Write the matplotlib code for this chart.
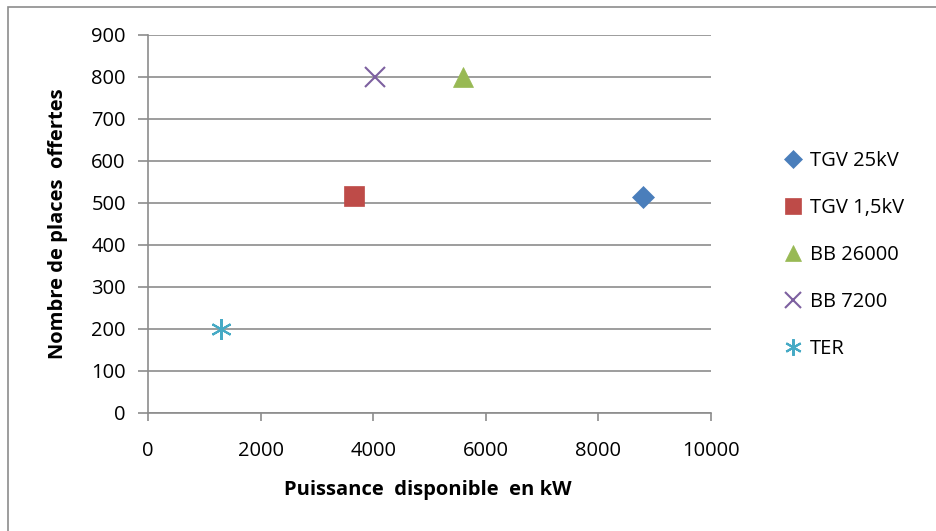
import matplotlib
matplotlib.use("Agg")
import matplotlib.pyplot as plt
from matplotlib.patches import Rectangle

plt.rcParams['font.family'] = ['Open Sans', 'DejaVu Sans']

series = ["TGV 25kV", "TGV 1,5kV", "BB 26000", "BB 7200", "TER"]
puissance = [8800, 3660, 5600, 4030, 1300]
places = [515, 516, 800, 800, 200]
colors = ["#4A7EBB", "#BE4B48", "#98B954", "#7D60A0", "#46AAC5"]
markers = ["D", "s", "^", "x", (6, 2, 0)]
sizes = [11, 14, 15, 14.5, 15]
xticks = [0, 2000, 4000, 6000, 8000, 10000]
yticks = [0, 100, 200, 300, 400, 500, 600, 700, 800, 900]

fig = plt.figure(figsize=(9.37, 5.31), dpi=100)
fig.patches.append(Rectangle((8/937, -0.02), 1.0, 1 - 7/531 + 0.02, transform=fig.transFigure,
                             fill=False, edgecolor="#8C8C8C", linewidth=1.2))
ax = fig.add_axes([148/937, 1 - 413/531, (711 - 148)/937, (413 - 35)/531])

for name, x, y, c, m, s in zip(series, puissance, places, colors, markers, sizes):
    filled = m in ("D", "s", "^")
    ax.plot([x], [y], linestyle="none", marker=m, markersize=s,
            color=c, markeredgecolor=c, markeredgewidth=1.5 if not filled else 0.5,
            label=name, clip_on=False)

ax.set_xlim(0, 10000)
ax.set_ylim(0, 900)
ax.set_xticks(xticks)
ax.set_yticks(yticks)
ax.grid(axis="y", color="#8C8C8C", linewidth=1.2)
ax.set_axisbelow(True)
for side in ("top", "right"):
    ax.spines[side].set_visible(False)
for side in ("left", "bottom"):
    ax.spines[side].set_color("#8C8C8C")
    ax.spines[side].set_linewidth(1.2)
ax.tick_params(axis="both", colors="#8C8C8C", width=1.2, labelsize=14.5,
               labelcolor="black")
ax.tick_params(axis="x", length=5.5, pad=15)
ax.tick_params(axis="y", length=7, pad=9)

ax.set_xlabel("Puissance  disponible  en kW", fontsize=14.5, fontweight="bold", va="center")
ax.xaxis.set_label_coords(0.497, -0.204)
ax.set_ylabel("Nombre de places  offertes", fontsize=14.5, fontweight="bold", va="center")
ax.yaxis.set_label_coords(-0.16, 0.5)

leg = ax.legend(loc="center left", bbox_to_anchor=(765/937, 1 - 255/531),
                bbox_transform=fig.transFigure, frameon=False, fontsize=14.5,
                handlelength=1.0, handletextpad=0.35, labelspacing=1.33, markerscale=0.8)

fig.savefig("out.png", dpi=100)
